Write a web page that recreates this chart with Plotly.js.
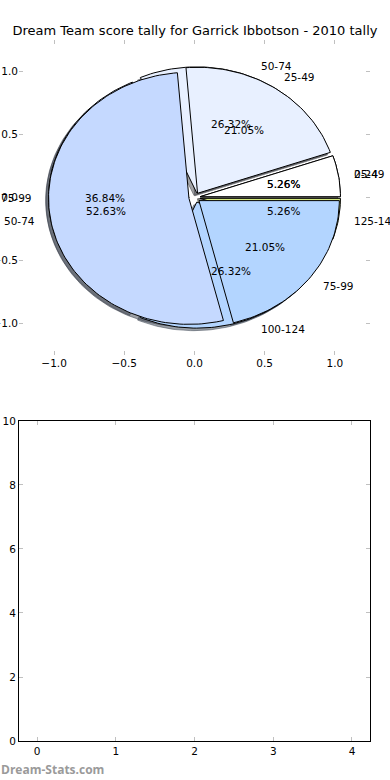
<!DOCTYPE html>
<html>
<head>
<meta charset="utf-8">
<script src="https://cdn.plot.ly/plotly-3.0.1.min.js"></script>
<style>html,body{margin:0;padding:0;background:#fff;}#chart{width:390px;height:780px;}</style>
</head>
<body>
<div id="chart"></div>
<script>
// ---- data (counts; total 19 each) ----
const chartTitle = 'Dream Team score tally for Garrick Ibbotson - 2010 tally';
const pieALabels = ['25-49', '50-74', '75-99', '100-124', '125-149'];
const pieAValues = [1, 5, 7, 5, 1];
const pieBLabels = ['0-24', '25-49', '50-74', '75-99'];
const pieBValues = [1, 4, 10, 4];
const pieAColors = ['#ffffff', '#e8f0ff', '#c5d9ff', '#b3d5ff', '#d6ea80'];
const pieBColors = ['#ffffff', '#e8f0ff', '#c5d9ff', '#b3d5ff'];
const pieTicks = [-1.0, -0.5, 0.0, 0.5, 1.0];
const emptyXTicks = [0, 1, 2, 3, 4];
const emptyYTicks = [0, 2, 4, 6, 8, 10];
const watermark = 'Dream-Stats.com';

// ---- build wedges through the xy axes (matplotlib style pie) ----
const EXPLODE = 0.04, LABEL_R = 1.1, PCT_R = 0.6, SHADOW = -0.02;
function darker(hex) {
  const r = parseInt(hex.slice(1,3),16), g = parseInt(hex.slice(3,5),16), b = parseInt(hex.slice(5,7),16);
  return 'rgba(' + Math.round(r*0.3) + ',' + Math.round(g*0.3) + ',' + Math.round(b*0.3) + ',0.5)';
}
function buildPie(values, labels, colors) {
  const total = values.reduce((a,b)=>a+b,0);
  let start = 0;
  const out = [];
  values.forEach((v, i) => {
    const a1 = start, a2 = start + 360 * v / total;
    start = a2;
    const mid = (a1 + a2) / 2 * Math.PI / 180;
    const cx = EXPLODE * Math.cos(mid), cy = EXPLODE * Math.sin(mid);
    const xs = [cx], ys = [cy];
    const n = Math.max(4, Math.ceil((a2 - a1) / 1.5));
    for (let k = 0; k <= n; k++) {
      const t = (a1 + (a2 - a1) * k / n) * Math.PI / 180;
      xs.push(cx + Math.cos(t)); ys.push(cy + Math.sin(t));
    }
    xs.push(cx); ys.push(cy);
    out.push({xs, ys, color: colors[i], label: labels[i],
      lx: cx + LABEL_R * Math.cos(mid), ly: cy + LABEL_R * Math.sin(mid),
      px: cx + PCT_R * Math.cos(mid), py: cy + PCT_R * Math.sin(mid),
      pct: (100 * v / total).toFixed(2) + '%'});
  });
  return out;
}
const pieA = buildPie(pieAValues, pieALabels, pieAColors);
const pieB = buildPie(pieBValues, pieBLabels, pieBColors);

const traces = [];
[pieA, pieB].forEach(p => p.forEach(w => traces.push({
  type: 'scatter', mode: 'lines', x: w.xs.map(x => x + SHADOW), y: w.ys.map(y => y + SHADOW),
  fill: 'toself', fillcolor: darker(w.color), line: {color: darker(w.color), width: 1},
  hoverinfo: 'skip', xaxis: 'x', yaxis: 'y'
})));
[pieA, pieB].forEach(p => p.forEach(w => traces.push({
  type: 'scatter', mode: 'lines', x: w.xs, y: w.ys,
  fill: 'toself', fillcolor: w.color, line: {color: '#000', width: 1},
  hoverinfo: 'skip', xaxis: 'x', yaxis: 'y'
})));
// invisible trace for the empty lower axes
traces.push({type: 'scatter', mode: 'markers', x: [], y: [], xaxis: 'x2', yaxis: 'y2', hoverinfo: 'skip'});

const annotations = [];
[pieA, pieB].forEach(p => p.forEach(w => {
  annotations.push({xref: 'x', yref: 'y', x: w.lx, y: w.ly, text: w.label, showarrow: false,
    xanchor: w.lx > 0 ? 'left' : 'right', yanchor: 'middle', font: {size: 10.5, color: '#000'}});
  annotations.push({xref: 'x', yref: 'y', x: w.px, y: w.py, text: w.pct, showarrow: false,
    xanchor: 'center', yanchor: 'middle', font: {size: 10.5, color: '#000'}});
}));
annotations.push({xref: 'paper', yref: 'paper', x: -0.057, y: -0.041, text: watermark, showarrow: false,
  xanchor: 'left', yanchor: 'middle', font: {family: 'Open Sans', size: 12, color: '#9a9a9a', weight: 'bold'}});

const tickStyle = {ticks: 'inside', ticklen: 4, tickwidth: 1, tickcolor: '#c0c0c0',
  showgrid: false, zeroline: false, fixedrange: true, tickfont: {size: 10.5}};
const layout = {
  width: 390, height: 780,
  margin: {l: 19, r: 20, t: 40, b: 39},
  paper_bgcolor: '#fff', plot_bgcolor: '#fff',
  showlegend: false,
  font: {family: 'DejaVu Sans', size: 10, color: '#000'},
  title: {text: chartTitle, font: {size: 13, color: '#000'}, x: 0.5, xanchor: 'center',
    y: 1 - 30/780, yanchor: 'middle'},
  xaxis: Object.assign({}, tickStyle, {anchor: 'y', domain: [0, 1], range: [-1.25, 1.25],
    tickvals: pieTicks, tickformat: '.1f', showline: false, mirror: 'ticks'}),
  yaxis: Object.assign({}, tickStyle, {anchor: 'x', domain: [0.5506, 1], range: [-1.25, 1.25],
    tickvals: pieTicks, tickformat: '.1f', showline: false, mirror: 'ticks'}),
  xaxis2: Object.assign({}, tickStyle, {anchor: 'y2', domain: [0, 1], range: [-0.229, 4.229],
    tickvals: emptyXTicks, showline: true, linecolor: '#000', linewidth: 1, mirror: 'ticks'}),
  yaxis2: Object.assign({}, tickStyle, {anchor: 'x2', domain: [0, 0.4565], range: [0, 10],
    tickvals: emptyYTicks, showline: true, linecolor: '#000', linewidth: 1, mirror: 'ticks'}),
  annotations: annotations
};
Plotly.newPlot('chart', traces, layout, {staticPlot: true, displayModeBar: false});
</script>
</body>
</html>
